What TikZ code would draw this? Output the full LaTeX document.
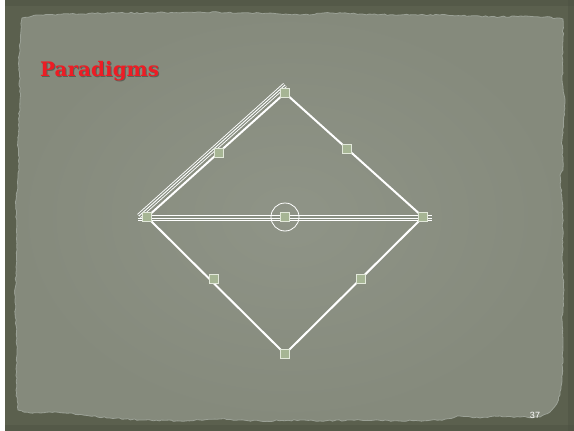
\documentclass[tikz,border=0pt]{standalone}
\usepackage{fontspec}
\usetikzlibrary{decorations.pathmorphing,calc}
\newfontfamily\titlefont{DejaVu Serif}
\newfontfamily\numfont{Liberation Sans}
\definecolor{frame}{HTML}{5B604E}
\definecolor{framedark}{HTML}{4E5343}
\definecolor{paper}{HTML}{899083}
\definecolor{paperin}{HTML}{8F9487}
\definecolor{paperout}{HTML}{858A7C}
\definecolor{sqfill}{HTML}{A6B594}
\definecolor{sqdraw}{HTML}{E2E8DA}
\definecolor{titlered}{HTML}{EE1C24}
\tikzset{
  edge/.style={draw=white, line width=2pt},
  triple/.style={preaction={draw=white, line width=5.2pt},
                 preaction={draw=paper, line width=3.4pt},
                 draw=white, line width=0.9pt},
  sq/.style={draw=sqdraw, fill=sqfill, line width=0.8pt, minimum size=9pt, inner sep=0pt, outer sep=0pt},
  ring/.style={draw=white, line width=0.8pt}
}
\begin{document}
\begin{tikzpicture}[x=1pt,y=-1pt]
\useasboundingbox (0,0) rectangle (574,431);
% frame
\fill[frame] (0,0) rectangle (574,431);
\fill[framedark, opacity=0.5] (0,0) rectangle (574,6);
\fill[framedark, opacity=0.5] (0,425) rectangle (574,431);
\fill[framedark, opacity=0.5] (568,0) rectangle (574,431);
\fill[white] (0,0) rectangle (5,431);
% paper
\pgfmathsetseed{7}
\path[decorate, decoration={random steps, segment length=3pt, amplitude=0.7pt},
      inner color=paperin, outer color=paperout, draw=paper!85!white, line width=0.8pt]
  (22,18) -- (40,15) -- (80,14) -- (110,13) -- (150,13) -- (200,12) -- (250,13) -- (280,14) -- (300,15)
  -- (330,13) -- (360,14) -- (400,15) -- (440,15) -- (470,16) -- (500,17) -- (520,16) -- (545,17) -- (563,19)
  -- (563,40) -- (562,80) -- (565,100) -- (562,140) -- (563,170) -- (560,175) -- (562,200) -- (563,230)
  -- (562,260) -- (564,290) -- (562,320) -- (563,350) -- (562,380) -- (560,395) -- (556,405) -- (550,412) -- (540,417)
  -- (520,417) -- (500,416) -- (480,418) -- (460,416) -- (440,420) -- (400,421) -- (360,420) -- (320,421)
  -- (300,420) -- (260,421) -- (220,419) -- (180,421) -- (140,420) -- (110,418) -- (90,416) -- (70,413)
  -- (50,412) -- (30,413) -- (18,410)
  -- (16,390) -- (17,350) -- (15,300) -- (17,250) -- (16,200) -- (19,170) -- (18,140) -- (20,100) -- (19,60) -- (21,30) -- cycle;
% title
\node[anchor=base west, inner sep=0pt, text=black, opacity=0.3, font=\titlefont\bfseries\fontsize{20}{20}\selectfont] at (41,77) {Paradigms};
\node (title) [anchor=base west, inner sep=0pt, text=titlered, font=\titlefont\bfseries\fontsize{20}{20}\selectfont] at (40,76) {Paradigms};
% corner points
\coordinate (T) at (285,93);
\coordinate (L) at (147,217);
\coordinate (R) at (423,217);
\coordinate (B) at (285,354);
\coordinate (C) at (285,217);
\coordinate (HL) at (138,218);
\coordinate (HR) at (432,218);
\coordinate (DL) at (139,216);
\coordinate (DT) at (285,85);
% edges
\draw[edge] (L) -- (T) -- (R) -- (B) -- cycle;
% triple lines
\draw[triple] (HL) -- (HR);
\draw[triple] (DL) -- (DT);
% squares
\node[sq] (nT) at (T) {};
\node[sq] (nL) at (L) {};
\node[sq] (nR) at (R) {};
\node[sq] (nB) at (B) {};
\node[sq] (nC) at (C) {};
\node[sq] (nTL) at ($(L)!0.52!(T)$) {};
\node[sq] (nTR) at ($(T)!0.45!(R)$) {};
\node[sq] (nBL) at (214,279) {};
\node[sq] (nBR) at (361,279) {};
\draw[ring] (C) circle[radius=14pt];
% page number
\node (num) [text=white, font=\numfont\fontsize{9}{9}\selectfont] at (535,415) {37};
\end{tikzpicture}
\end{document}
